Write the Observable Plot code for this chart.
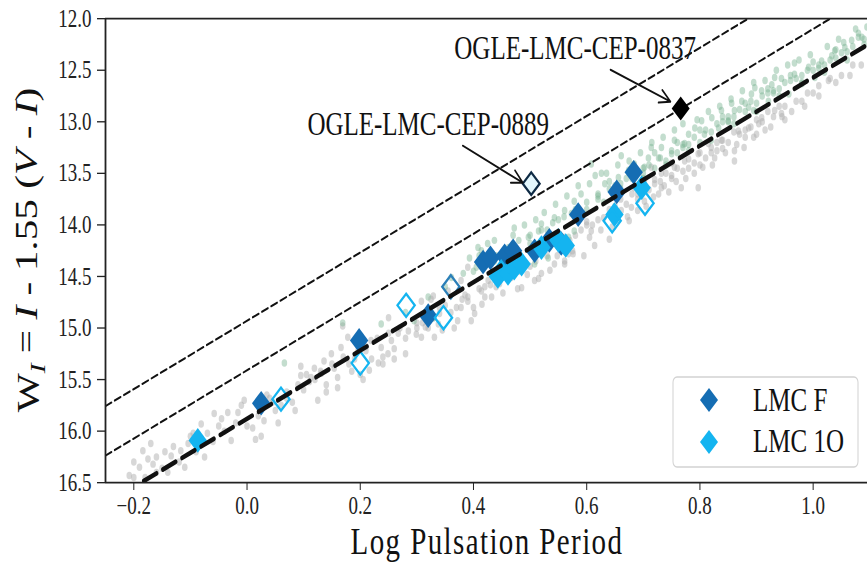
<!DOCTYPE html>
<html>
<head>
<meta charset="utf-8">
<script src="https://cdn.jsdelivr.net/npm/d3@7"></script>
<script src="https://cdn.jsdelivr.net/npm/@observablehq/plot@0.6"></script>
<style>
  html, body { margin: 0; padding: 0; background: white; }
  #chart { width: 867px; height: 563px; overflow: hidden; }
</style>
</head>
<body>
<div id="chart"></div>
<script>
// Axis ticks
const xTicks = [-0.2, 0.0, 0.2, 0.4, 0.6, 0.8, 1.0];
const yTicks = [12.0, 12.5, 13.0, 13.5, 14.0, 14.5, 15.0, 15.5, 16.0, 16.5];

// OGLE LMC Cepheid field sample, fundamental mode [log P, W_I]
const ogleF = [
  [-0.208,16.43],[-0.2,16.45],[-0.184,16.19],[-0.175,16.27],[-0.166,16.32],[-0.16,16.4],[-0.15,16.36],
  [-0.134,16.24],[-0.117,16.19],[-0.104,16.12],[-0.081,15.93],[-0.07,16.02],[-0.058,15.83],[-0.034,15.82],
  [-0.028,16.09],[-0.016,15.82],[-0.01,15.75],[0.01,15.97],[0.025,16.05],[0.04,15.68],[0.05,15.8],
  [0.07,15.62],[0.08,15.72],[0.095,15.46],[0.095,15.37],[0.113,15.48],[0.119,15.39],[0.131,15.44],
  [0.136,15.32],[0.149,15.25],[0.154,15.39],[0.166,15.19],[0.178,15.09],[0.196,15.22],[0.21,15.22],
  [0.216,15.41],[0.219,15.12],[0.232,15.34],[0.237,15.19],[0.249,15.25],[0.255,15.12],[0.267,15.05],
  [0.285,15.03],[0.299,15.06],[0.308,15.09],[0.32,15.0],[0.331,15.09],[0.338,14.96],[0.366,15.0],
  [0.378,14.8],[0.39,14.74],[0.396,14.93],[0.308,14.74],[0.329,14.69],[0.355,14.64],[0.378,14.54],
  [0.39,14.41],[0.414,14.64],[0.426,14.54],[0.446,14.57],[0.467,14.51],[0.485,14.61],[0.508,14.54],
  [0.52,14.47],[0.543,14.38],[0.561,14.35],[0.576,14.28],[0.568,14.28],[0.614,14.2],[0.64,14.14],
  [0.608,14.06],[0.561,14.38],[0.661,13.86],[0.675,13.96],[0.679,13.83],[0.702,13.77],[0.727,13.7],
  [0.732,13.64],[0.737,13.62],[0.767,13.64],[0.797,13.64],[0.684,13.64],[0.702,13.57],[0.714,13.44],
  [0.732,13.5],[0.755,13.44],[0.773,13.38],[0.797,13.31],[0.826,13.35],[0.861,13.28],[0.861,13.38],
  [0.815,13.21],[0.838,13.18],[0.868,13.09],[0.886,13.06],[0.904,13.02],[0.909,12.96],[0.932,12.89],
  [0.944,12.92],[0.98,12.8],[1.0,12.72],[1.027,12.6],[1.05,12.55],[1.07,12.45],[0.75,13.52],
  [0.78,13.45],[0.8,13.42],[0.82,13.3],[0.84,13.26],[0.88,13.15],[0.9,13.12],[0.95,12.98],
  [0.72,13.6],[0.69,13.7],[0.65,13.82],[0.62,13.95],[0.6,14.0],[0.58,14.1],[0.5,14.4],[0.48,14.45],
  [0.44,14.6],[0.42,14.7],[0.4,14.8],[0.36,14.85],[0.34,14.8],[0.3,14.95],[0.28,15.1],[0.26,15.2],
  [0.24,15.28],[0.22,15.3],[0.2,15.45],[0.18,15.35],[0.16,15.48],[0.14,15.55],[0.12,15.5],[0.1,15.6],
  [0.06,15.75],[0.03,15.9],[0.0,15.95],[-0.04,16.0],[-0.06,16.1],[-0.09,16.2],[-0.12,16.3],
  [-0.14,16.4],[-0.18,16.45],[0.169,14.98],[0.25,14.9],
  [0.31,14.95],[0.33,14.9],[0.35,14.78],[0.37,14.8],[0.39,14.7],[0.41,14.62],[0.43,14.58],[0.45,14.5],
  [0.47,14.46],[0.49,14.4],[0.51,14.35],[0.53,14.3],[0.55,14.2],[0.57,14.15],[0.59,14.05],[0.61,14.0],
  [0.63,13.93],[0.65,13.9],[0.67,13.8],[0.69,13.75],[0.71,13.66],[0.73,13.58],[0.75,13.55],[0.77,13.48],
  [0.79,13.4],[0.81,13.35],[0.83,13.28],[0.85,13.2],[0.87,13.12],[0.89,13.05],[0.91,13.0],[0.93,12.95],
  [0.95,12.85],[0.97,12.8],[0.99,12.72],[1.01,12.65],[1.03,12.58],[0.66,13.75],[0.7,13.65],[0.74,13.5],
  [0.78,13.36],[0.82,13.25],[0.86,13.1],[0.9,12.98],[0.94,12.85],[0.76,13.45],[0.8,13.3],[0.84,13.18],
  [0.88,13.08],[0.72,13.56],[0.68,13.7],[0.64,13.85],[0.6,13.97],[0.56,14.12],[0.52,14.25],[0.46,14.45],
  [0.42,14.6],[0.38,14.72],[0.34,14.86],[0.3,15.0],[0.27,15.0],[0.25,15.05],[0.23,15.1],[0.21,15.18],
  [0.19,15.3],[0.17,15.28],[0.15,15.35],[0.13,15.42],[0.11,15.52],[0.09,15.55],[0.07,15.68],[0.045,15.72],
  [0.02,15.85],[-0.02,15.92],[-0.05,15.95],[-0.1,16.05],[-0.13,16.15],[-0.16,16.25],[-0.19,16.35],
  [0.315,14.99],[0.325,14.72],[0.345,15.02],[0.372,14.93],[0.385,14.68],[0.402,14.86],[0.415,14.77],
  [0.432,14.7],[0.452,14.66],[0.478,14.62],[0.495,14.48],[0.515,14.52],[0.535,14.44],[0.548,14.3],
  [0.575,14.25],[0.595,14.3],[0.605,14.12],[0.625,14.05],[0.645,14.02],[0.655,13.95],[0.672,13.92],
  [0.69,13.86],[0.705,13.82],[0.718,13.73],[0.745,13.68],[0.758,13.58],[0.775,13.55],[0.79,13.5],
  [0.805,13.44],[0.822,13.42],[0.845,13.3],[0.865,13.22],[0.878,13.25],[0.895,13.15],[0.915,13.08],
  [0.925,13.05],[0.945,12.95],[0.962,12.9],[0.985,12.85],[1.01,12.75],[1.04,12.62],[1.065,12.55],
  [1.085,12.45],[0.28,15.25],[0.26,15.3],[0.24,15.35],[0.205,15.5],[0.185,15.42],[0.16,15.58],
  [0.14,15.62],[0.125,15.7],[0.105,15.45],[0.085,15.8],[0.055,15.92],[0.035,15.65],[0.015,16.08],
  [-0.005,15.7],[-0.045,15.88],[-0.075,16.25],[-0.095,16.02],[-0.11,16.35],[-0.145,16.2],[-0.17,16.12],
  [-0.2,16.3],[0.75,13.4],[0.83,13.2],[0.92,12.9]
];

// OGLE LMC Cepheid field sample, first overtone [log P, W_I]
const ogle1O = [
  [0.066,15.34],[0.169,14.95],[0.237,14.96],[0.295,14.93],[0.329,14.9],[0.361,14.51],[0.382,14.47],
  [0.405,14.41],[0.393,14.32],[0.408,14.22],[0.414,14.25],[0.437,14.35],[0.437,14.15],[0.414,14.35],
  [0.462,14.22],[0.467,14.38],[0.472,14.03],[0.497,14.12],[0.508,14.38],[0.515,14.06],[0.52,13.99],
  [0.532,14.32],[0.543,13.93],[0.555,14.22],[0.561,13.86],[0.568,14.12],[0.573,13.89],[0.578,14.06],
  [0.578,13.77],[0.59,13.7],[0.608,13.41],[0.626,13.5],[0.632,13.6],[0.656,13.54],[0.661,13.33],
  [0.674,13.47],[0.684,13.41],[0.702,13.44],[0.709,13.35],[0.727,13.35],[0.732,13.25],[0.75,13.31],
  [0.755,13.18],[0.773,13.21],[0.78,13.12],[0.791,13.06],[0.803,12.99],[0.808,13.12],[0.821,12.96],
  [0.833,13.06],[0.838,12.89],[0.85,12.99],[0.856,12.82],[0.861,12.89],[0.874,12.8],[0.886,12.86],
  [0.891,12.73],[0.895,12.89],[0.897,12.67],[0.909,12.7],[0.921,12.8],[0.927,12.64],[0.932,12.57],
  [0.944,12.58],[0.957,12.73],[0.967,12.54],[0.967,12.43],[0.98,12.63],[0.992,12.47],[1.003,12.57],
  [1.015,12.41],[1.033,12.36],[1.038,12.31],[1.054,12.23],[1.056,12.28],[1.068,12.21],[1.08,12.14],
  [1.086,12.18],[0.6,13.85],[0.62,13.75],[0.64,13.65],[0.66,13.6],[0.68,13.55],[0.7,13.5],
  [0.72,13.45],[0.74,13.38],[0.76,13.3],[0.78,13.22],[0.8,13.2],[0.82,13.1],[0.84,13.0],[0.86,12.95],
  [0.88,12.9],[0.9,12.82],[0.92,12.72],[0.94,12.68],[0.96,12.6],[0.98,12.55],[1.0,12.5],[1.02,12.45],
  [1.04,12.38],[1.06,12.32],[1.09,12.25],[0.714,13.25],[0.55,13.95],[0.53,14.05],[0.5,14.18],
  [0.48,14.3],[0.45,14.28],[0.35,14.6],[0.32,14.7],[0.28,14.85],
  [0.4,14.45],[0.42,14.4],[0.44,14.3],[0.46,14.25],[0.48,14.15],[0.5,14.1],[0.52,14.05],[0.54,13.98],
  [0.56,13.92],[0.58,13.85],[0.6,13.78],[0.62,13.7],[0.63,13.78],[0.65,13.62],[0.67,13.55],[0.69,13.48],
  [0.71,13.42],[0.73,13.35],[0.75,13.28],[0.77,13.22],[0.79,13.15],[0.81,13.08],[0.83,13.02],[0.85,12.95],
  [0.87,12.88],[0.89,12.8],[0.91,12.75],[0.93,12.7],[0.95,12.62],[0.97,12.58],[0.99,12.5],[1.01,12.45],
  [1.03,12.4],[1.05,12.33],[1.07,12.27],[1.09,12.2],[0.64,13.58],[0.68,13.45],[0.72,13.3],[0.76,13.2],
  [0.8,13.08],[0.84,12.95],[0.88,12.82],[0.92,12.68],[0.96,12.55],[1.0,12.42],[1.04,12.3],[1.08,12.18],
  [0.66,13.65],[0.7,13.55],[0.74,13.42],[0.78,13.28],[0.82,13.18],[0.86,13.02],[0.9,12.9],[0.94,12.75],
  [0.98,12.62],[1.02,12.52],[1.06,12.4],[1.1,12.28],
  [0.41,14.3],[0.425,14.18],[0.47,14.1],[0.49,14.0],[0.51,13.95],[0.525,13.88],[0.545,13.8],[0.565,13.72],
  [0.585,13.62],[0.605,13.6],[0.615,13.52],[0.635,13.5],[0.655,13.42],[0.675,13.38],[0.695,13.3],
  [0.715,13.2],[0.735,13.15],[0.755,13.08],[0.77,13.02],[0.795,12.98],[0.815,12.9],[0.835,12.85],
  [0.855,12.78],[0.875,12.7],[0.895,12.62],[0.915,12.6],[0.935,12.5],[0.955,12.45],[0.975,12.4],
  [0.995,12.35],[1.025,12.27],[1.045,12.2],[1.075,12.1],[1.095,12.08],[0.62,13.72],[0.7,13.45],
  [0.77,13.25],[0.85,13.0],[0.93,12.72],[1.01,12.48]
];

// Program stars: fundamental mode (filled)
const lmcF = [
  [0.025,15.73],[0.198,15.12],[0.32,14.88],[0.417,14.36],[0.43,14.32],[0.455,14.3],[0.47,14.25],
  [0.465,14.42],[0.508,14.25],[0.534,14.15],[0.555,14.18],[0.585,13.9],[0.653,13.68],[0.683,13.49]
];
// Program stars: first overtone (filled)
const lmc1O = [
  [-0.087,16.09],[0.443,14.5],[0.449,14.45],[0.461,14.47],[0.472,14.42],[0.485,14.38],[0.52,14.22],
  [0.55,14.15],[0.563,14.2],[0.649,13.9],[0.697,13.64]
];
// Program stars drawn open
const lmc1OOpen = [[0.06,15.69],[0.2,15.34],[0.281,14.78],[0.347,14.9],[0.645,13.96],[0.703,13.79]];
const lmcFOpen = [[0.36,14.6]];

// Named outliers
const starNames = ["OGLE-LMC-CEP-0837", "OGLE-LMC-CEP-0889"];
const starLogP = [0.766, 0.502];
const starW = [12.87, 13.60];
const nameX = [0.5795, 0.32];
const nameY = [12.286, 13.028];
const arrowFromX = [0.642, 0.381];
const arrowFromY = [12.495, 13.232];
const arrowToX = [0.748, 0.487];
const arrowToY = [12.805, 13.59];

// Period-Wesenheit relations W = zp + slope * log P (fit, and two brighter offsets)
const relationZeroPoint = [15.88, 15.41, 14.93];
const relationSlope = -3.31;

const legendLabels = ["LMC F", "LMC 1O"];

// ---- drawing ----
const W = 867, H = 422, HOUT = 563;       // drawn at H, shown at HOUT
const xDomain = [-0.25, 1.096];
const yDomain = [12.0, 16.5];
const colorF = "#156db3", color1O = "#14b4f0";
const font = "Liberation Serif, Times New Roman, serif";

const toRows = arr => arr.map(([x, y]) => ({x, y}));
const relationRows = relationZeroPoint.flatMap((zp, i) =>
  xDomain.map(x => ({x, y: zp + relationSlope * x, k: i})));
const starRows = starNames.map((name, i) => ({
  name, x: starLogP[i], y: starW[i], lx: nameX[i], ly: nameY[i],
  x1: arrowFromX[i], y1: arrowFromY[i], x2: arrowToX[i], y2: arrowToY[i]
}));

const fmt = d => d.toFixed(1).replace("-", "\u2212");

const svg = Plot.plot({
  width: W, height: H,
  marginLeft: 105, marginRight: 0, marginTop: 13.5, marginBottom: 60.7,
  style: {fontFamily: font, fontSize: "19px", color: "#222", background: "white", overflow: "visible"},
  x: {domain: xDomain, ticks: xTicks, tickFormat: fmt, tickSize: 6, tickPadding: 4, label: null},
  y: {domain: yDomain, reverse: true, ticks: yTicks, tickFormat: fmt, tickSize: 8, tickPadding: 6, label: null},
  marks: [
    Plot.dot(toRows(ogleF), {x: "x", y: "y", r: 2.8, fill: "#b0b0b0", fillOpacity: 0.5}),
    Plot.dot(toRows(ogle1O), {x: "x", y: "y", r: 2.8, fill: "#7ab393", fillOpacity: 0.45}),
    Plot.dot(toRows(lmcF), {x: "x", y: "y", r: 8.3, symbol: "diamond2", fill: colorF}),
    Plot.dot(toRows(lmc1O), {x: "x", y: "y", r: 8.3, symbol: "diamond2", fill: color1O}),
    Plot.dot(toRows(lmc1OOpen), {x: "x", y: "y", r: 7.8, symbol: "diamond2", fill: "none", stroke: color1O, strokeWidth: 2}),
    Plot.dot(toRows(lmcFOpen), {x: "x", y: "y", r: 7.8, symbol: "diamond2", fill: "none", stroke: "#2b7fb8", strokeWidth: 2}),
    Plot.line(relationRows.filter(d => d.k > 0), {x: "x", y: "y", z: "k", stroke: "#111", strokeWidth: 1.6, strokeDasharray: "6.5,3.6", clip: true}),
    Plot.line(relationRows.filter(d => d.k === 0), {x: "x", y: "y", stroke: "#111", strokeWidth: 3.6, strokeDasharray: "14,7", clip: true}),
    Plot.dot(starRows.slice(0, 1), {x: "x", y: "y", r: 8.1, symbol: "diamond2", fill: "#000"}),
    Plot.dot(starRows.slice(1), {x: "x", y: "y", r: 7.6, symbol: "diamond2", fill: "#e4f7fd", stroke: "#0e2a44", strokeWidth: 2}),
    Plot.arrow(starRows, {x1: "x1", y1: "y1", x2: "x2", y2: "y2", stroke: "#111", strokeWidth: 1.5, headLength: 12, headAngle: 50}),
    Plot.text(starRows, {x: "lx", y: "ly", text: "name", fontSize: 25, fill: "#111", textAnchor: "middle", lineAnchor: "middle"}),
    Plot.ruleY([yDomain[0]], {stroke: "#222", strokeWidth: 1.4}),
    Plot.ruleY([yDomain[1]], {stroke: "#222", strokeWidth: 1.4}),
    Plot.ruleX([xDomain[0]], {stroke: "#222", strokeWidth: 1.8})
  ]
});

// show the drawing with the figure's vertical proportions
svg.setAttribute("height", HOUT);
svg.setAttribute("preserveAspectRatio", "none");
svg.style.width = W + "px";
svg.style.height = HOUT + "px";
svg.style.maxWidth = "none";
document.getElementById("chart").appendChild(svg);

const s = d3.select(svg);
const k = HOUT / H;

// axis titles
s.append("text")
  .attr("x", 487).attr("y", 554 / k)
  .attr("text-anchor", "middle")
  .attr("font-family", font).attr("font-size", 29).attr("letter-spacing", 1.4).attr("fill", "#111")
  .text("Log Pulsation Period");

const yl = s.append("text")
  .attr("transform", `translate(39,${250 / k}) rotate(-90)`)
  .attr("text-anchor", "middle")
  .attr("font-family", font).attr("font-size", 31).attr("fill", "#111");
yl.append("tspan").text("W");
yl.append("tspan").attr("dy", "0.25em").attr("font-size", 22).attr("font-style", "italic").text("I");
yl.append("tspan").attr("dy", "-0.25em").text(" = ");
yl.append("tspan").attr("font-style", "italic").text("I");
yl.append("tspan").text(" - 1.55 (");
yl.append("tspan").attr("font-style", "italic").text("V");
yl.append("tspan").text(" - ");
yl.append("tspan").attr("font-style", "italic").text("I");
yl.append("tspan").text(")");

// legend
const lg = s.append("g");
lg.append("rect")
  .attr("x", 673).attr("y", 377 / k).attr("width", 185).attr("height", 90 / k)
  .attr("rx", 4).attr("fill", "white").attr("fill-opacity", 0.85)
  .attr("stroke", "#d2d2d2").attr("stroke-width", 1);
const legendColors = [colorF, color1O];
const diamond = d3.symbol(d3.symbolDiamond2, Math.PI * 8.1 * 8.1);
legendLabels.forEach((label, i) => {
  const cy = (400 + 42 * i) / k;
  lg.append("path").attr("d", diamond()).attr("transform", `translate(709,${cy})`).attr("fill", legendColors[i]);
  lg.append("text")
    .attr("x", 753).attr("y", (411 + 41 * i) / k)
    .attr("text-anchor", "start")
    .attr("font-family", font).attr("font-size", 25).attr("fill", "#111")
    .text(label);
});
</script>
</body>
</html>
